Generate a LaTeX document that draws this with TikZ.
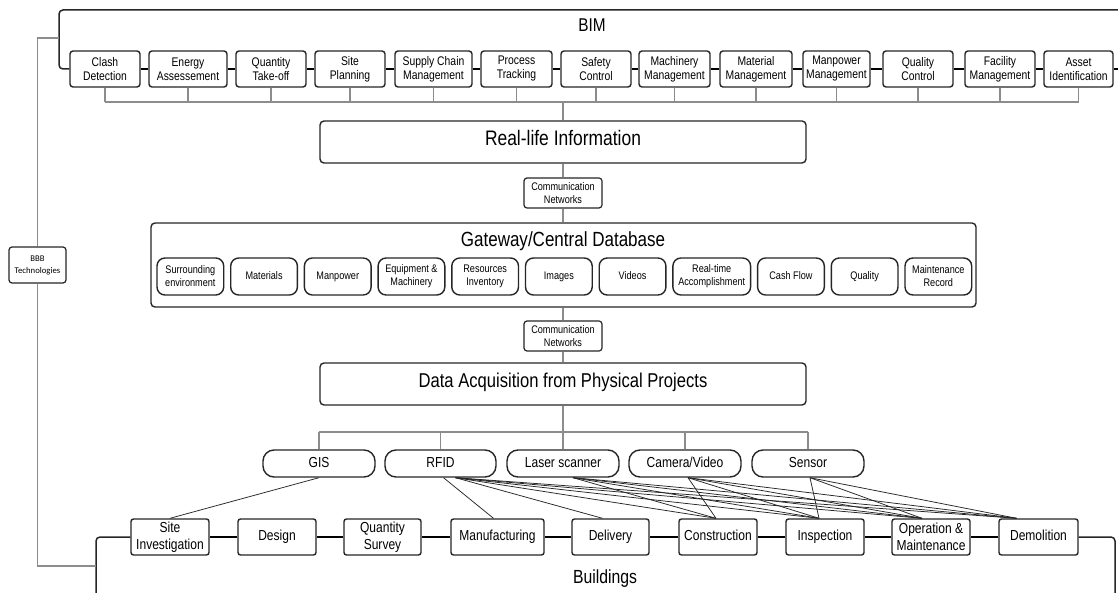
\documentclass[tikz,border=0pt]{standalone}
\usepackage{fontspec}
\setmainfont{Liberation Sans}[FakeStretch=0.83]
\newfontfamily\bbbfont{Carlito}
\usetikzlibrary{calc}
\newcommand\fsz[2]{\fontsize{#1}{#2}\selectfont}
\definecolor{ink}{HTML}{262626}
\definecolor{busgrey}{HTML}{8C8C8C}
\begin{document}
\begin{tikzpicture}[x=1pt,y=-1pt,
  box/.style={draw=ink, line width=1.4pt, fill=white, align=center, inner sep=0pt, rounded corners=3pt},
  oneline/.style={text height=0.75em, text depth=0.05em},
  topbox/.style={box, minimum width=#1, minimum height=36pt, font=\fsz{12.5}{14}},
  bigbox/.style={box, oneline, minimum width=486pt, minimum height=42pt, rounded corners=4pt},
  commbox/.style={box, minimum width=78pt, minimum height=30pt, font=\fsz{11}{13}, line width=1.2pt},
  itembox/.style={box, minimum width=#1, minimum height=37pt, rounded corners=8pt, font=\fsz{11}{13}},
  pill/.style={box, oneline, minimum width=#1, minimum height=27pt, rounded corners=11pt, font=\fsz{14.5}{17}},
  stagebox/.style={box, minimum width=#1, minimum height=36pt, rounded corners=2.5pt, font=\fsz{14.5}{17}},
  link/.style={draw=black, line width=1.3pt},
  frame/.style={draw=ink, line width=1.5pt, rounded corners=4pt},
  bus/.style={draw=busgrey, line width=1.1pt},
  feed/.style={draw=ink, line width=0.75pt}
]
\useasboundingbox[fill=white] (0,0) rectangle (1118,593);

% ---- BIM applications ----
\node[font=\fsz{18.5}{20}] (bim) at (592,25) {BIM};
\node[topbox=70pt] (clash)  at (105,69)    {Clash\\Detection};
\node[topbox=78pt] (energy) at (188,69)    {Energy\\Assessement};
\node[topbox=70pt] (qto)    at (271,69)    {Quantity\\Take-off};
\node[topbox=70pt] (sitep)  at (350,69)    {Site\\Planning};
\node[topbox=77pt] (supply) at (433.5,69)  {Supply Chain\\Management};
\node[topbox=71pt] (proc)   at (516.5,69)  {Process\\Tracking};
\node[topbox=70pt] (safety) at (596,69)    {Safety\\Control};
\node[topbox=71pt] (mach)   at (674.5,69)  {Machinery\\Management};
\node[topbox=72pt] (matm)   at (756,69)    {Material\\Management};
\node[topbox=67pt] (manm)   at (836.5,69)  {Manpower\\Management};
\node[topbox=70pt] (qual)   at (918,69)    {Quality\\Control};
\node[topbox=70pt] (facil)  at (1000,69)   {Facility\\Management};
\node[topbox=69pt] (asset)  at (1078.5,69) {Asset\\Identification};

\coordinate (bimL) at (59,38);
\coordinate (topbus) at (0,102);
\coordinate (rightedge) at (1118,10);

\draw[frame] (clash.west) -| (59,10) -- (rightedge);
\draw[link] (asset.east) -- (asset.east -| rightedge);
\foreach \a/\b in {clash/energy,energy/qto,qto/sitep,sitep/supply,supply/proc,proc/safety,
                   safety/mach,mach/matm,matm/manm,manm/qual,qual/facil,facil/asset}
  \draw[link] (\a.east) -- (\b.west);

\foreach \n in {clash,energy,qto,sitep,supply,proc,safety,mach,matm,manm,qual,facil,asset}
  \draw[bus] (\n.south) -- (\n.south |- topbus);
\draw[bus] (clash.south |- topbus) -- (asset.south |- topbus);

% ---- information chain ----
\node[bigbox, font=\fsz{21}{24}] (real) at (563,142) {Real-life Information};
\draw[bus] (real.north |- topbus) -- (real.north);

\node[commbox] (comm1) at (563,193) {Communication\\Networks};

\node[box, minimum width=825pt, minimum height=84pt, rounded corners=4pt] (gate) at (563.5,265) {};
\node[oneline, font=\fsz{20.5}{22}] (gatetitle) at (563,243) {Gateway/Central Database};

\node[itembox=66.7pt] (surr)  at (190.35,276.5) {Surrounding\\environment};
\node[itembox=66.7pt, oneline] (mats)  at (264.05,276.5) {Materials};
\node[itembox=66.7pt, oneline] (manp)  at (337.75,276.5) {Manpower};
\node[itembox=66.7pt] (equip) at (411.45,276.5) {Equipment \&\\Machinery};
\node[itembox=66.7pt] (res)   at (485.15,276.5) {Resources\\Inventory};
\node[itembox=66.7pt, oneline] (img)   at (558.85,276.5) {Images};
\node[itembox=66.7pt, oneline] (vid)   at (632.55,276.5) {Videos};
\node[itembox=77.7pt] (rta)   at (711.75,276.5) {Real-time\\Accomplishment};
\node[itembox=66.7pt, oneline] (cash)  at (790.95,276.5) {Cash Flow};
\node[itembox=66.7pt, oneline] (qlty)  at (864.65,276.5) {Quality};
\node[itembox=66.7pt] (maint) at (938.35,276.5) {Maintenance\\Record};

\node[commbox] (comm2) at (563,336) {Communication\\Networks};

\node[bigbox, font=\fsz{20}{24}] (daq) at (563,384) {Data Acquisition from Physical Projects};

\draw[bus] (real.south) -- (comm1.north);
\draw[bus] (comm1.south) -- (gate.north -| comm1.south);
\draw[bus] (gate.south -| comm2.north) -- (comm2.north);
\draw[bus] (comm2.south) -- (daq.north -| comm2.south);

% ---- data acquisition technologies ----
\node[pill=112pt] (gis)    at (319,463.5)   {GIS};
\node[pill=111pt] (rfid)   at (440.5,463.5) {RFID};
\node[pill=112pt] (laser)  at (563,463.5)   {Laser scanner};
\node[pill=112pt] (camera) at (685,463.5)   {Camera/Video};
\node[pill=112pt] (sensor) at (808,463.5)   {Sensor};

\coordinate (sbus) at (0,432);
\draw[bus] (daq.south) -- (daq.south |- sbus);
\draw[bus] (gis.north |- sbus) -- (sensor.north |- sbus);
\foreach \n in {gis,rfid,laser,camera,sensor}
  \draw[bus] (\n.north |- sbus) -- (\n.north);

% ---- project stages ----
\node[stagebox=78pt] (site)   at (170,537)    {Site\\Investigation};
\node[stagebox=78pt, oneline] (design) at (277,537)    {Design};
\node[stagebox=77pt] (qs)     at (382.5,537)  {Quantity\\Survey};
\node[stagebox=93pt, oneline] (manuf)  at (497.5,537)  {Manufacturing};
\node[stagebox=77pt, oneline] (deliv)  at (610.5,537)  {Delivery};
\node[stagebox=78pt, oneline] (constr) at (718,537)    {Construction};
\node[stagebox=78pt, oneline] (insp)   at (825,537)    {Inspection};
\node[stagebox=78pt] (om)     at (931,537)    {Operation \&\\Maintenance};
\node[stagebox=79pt, oneline] (demol)  at (1038.5,537) {Demolition};
\node[oneline, font=\fsz{19}{22}] (bldg) at (605,580) {Buildings};

\foreach \a/\b in {site/design,design/qs,qs/manuf,manuf/deliv,deliv/constr,constr/insp,insp/om,om/demol}
  \draw[link] (\a.east) -- (\b.west);
\draw[frame] (site.west) -| (96,600);
\draw[frame] (demol.east) -| (1115,600);

% ---- BBB technologies ----
\node[box, minimum width=57pt, minimum height=36pt, font=\bbbfont\fsz{8.7}{12}, line width=1.2pt] (bbb) at (37.5,265) {BBB\\Technologies};
\draw[bus] (bimL) -| (bbb.north);
\draw[bus] (bbb.south) |- (96,566);

% ---- which technology serves which stage ----
\coordinate (rfidOut)   at ($(rfid.south)+(15,0)$);
\coordinate (laserOut)  at ($(laser.south)+(10,0)$);
\coordinate (cameraOut) at ($(camera.south)+(3,0)$);
\coordinate (sensorOut) at ($(sensor.south)+(2,0)$);
\coordinate (manufIn)  at ($(manuf.north)+(-4,0)$);
\coordinate (delivIn)  at ($(deliv.north)+(-8,0)$);
\coordinate (constrIn) at ($(constr.north)+(-2,0)$);
\coordinate (inspIn)   at ($(insp.north)+(-6,0)$);
\coordinate (omIn)     at ($(om.north)+(-9,0)$);
\coordinate (demolIn)  at ($(demol.north)+(-22,0)$);

\draw[feed] (gis.south) -- (site.north);
\draw[feed] ($(rfid.south)+(3,0)$) -- (manufIn);
\foreach \t in {delivIn,constrIn,inspIn,omIn,demolIn}
  \draw[feed] (rfidOut) -- (\t);
\foreach \t in {constrIn,inspIn,omIn,demolIn}
  \draw[feed] (laserOut) -- (\t);
\foreach \t in {constrIn,inspIn,omIn,demolIn}
  \draw[feed] (cameraOut) -- (\t);
\foreach \t in {inspIn,omIn,demolIn}
  \draw[feed] (sensorOut) -- (\t);
\end{tikzpicture}
\end{document}
